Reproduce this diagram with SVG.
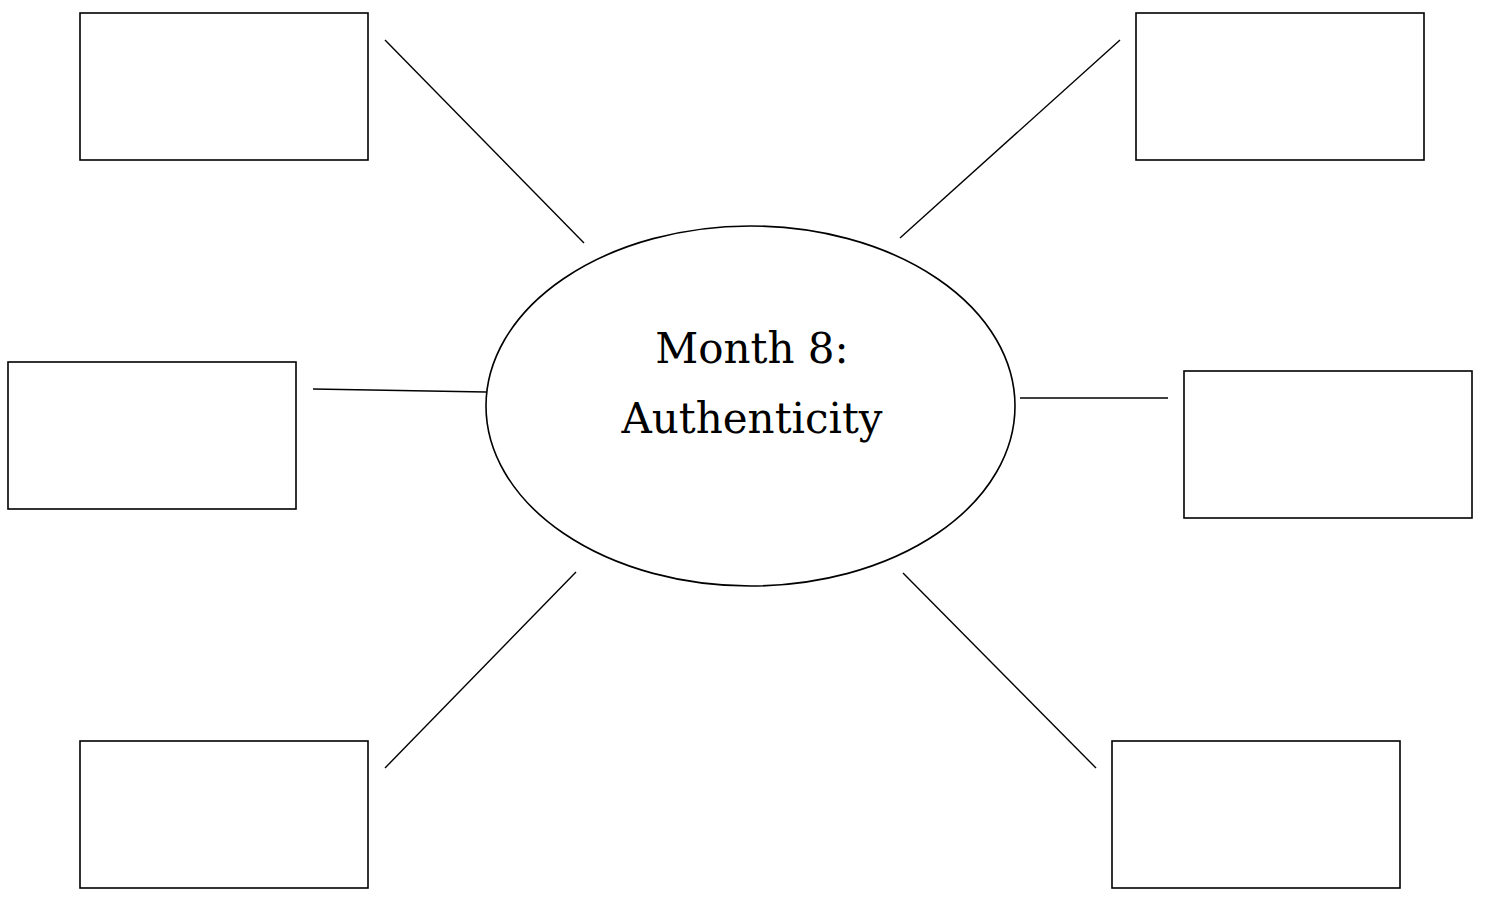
<svg xmlns="http://www.w3.org/2000/svg" width="1486" height="898" viewBox="0 0 1486 898">
<style>
.box{fill:#fff;stroke:#000;stroke-width:1.6}
.ln{stroke:#000;stroke-width:1.4;fill:none}
.t{font-family:"DejaVu Serif","Liberation Serif",serif;font-size:42px;fill:#000;text-anchor:middle}
</style>
<rect width="1486" height="898" fill="#fff"/>
<g id="connectors">
<line class="ln" x1="385" y1="40" x2="584" y2="243"/>
<line class="ln" x1="1120" y1="40" x2="900" y2="238"/>
<line class="ln" x1="313" y1="389" x2="486" y2="392"/>
<line class="ln" x1="1020" y1="398" x2="1168" y2="398"/>
<line class="ln" x1="576" y1="572" x2="385" y2="768"/>
<line class="ln" x1="903" y1="573" x2="1096" y2="768"/>
</g>
<g id="center">
<ellipse class="box" cx="750.5" cy="406" rx="264.5" ry="180"/>
<text class="t" x="752" y="363">Month 8:</text>
<text class="t" x="752" y="433">Authenticity</text>
</g>
<g id="box-tl"><rect class="box" x="80" y="13" width="288" height="147"/></g>
<g id="box-tr"><rect class="box" x="1136" y="13" width="288" height="147"/></g>
<g id="box-l"><rect class="box" x="8" y="362" width="288" height="147"/></g>
<g id="box-r"><rect class="box" x="1184" y="371" width="288" height="147"/></g>
<g id="box-bl"><rect class="box" x="80" y="741" width="288" height="147"/></g>
<g id="box-br"><rect class="box" x="1112" y="741" width="288" height="147"/></g>
</svg>
